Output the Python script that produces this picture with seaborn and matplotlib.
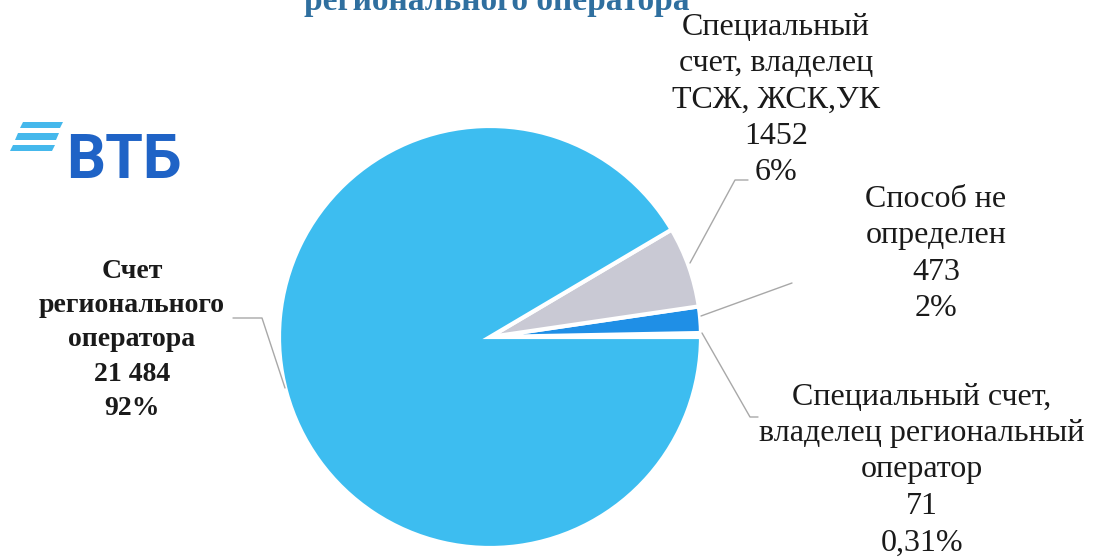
"""
Pie chart: accounts by way of forming capital repair fund
"""
import matplotlib
matplotlib.use("Agg")
import matplotlib.pyplot as plt
from matplotlib.patches import Polygon
import seaborn as sns

W, H = 1099, 558

# Data (counter-clockwise from 3 o'clock)
labels = [
    "Специальный счет,\nвладелец региональный\nоператор\n71\n0,31%",
    "Способ не\nопределен\n473\n2%",
    "Специальный\nсчет, владелец\nТСЖ, ЖСК,УК\n1452\n6%",
    "Счет\nрегионального\nоператора\n21 484\n92%",
]
values = [71, 473, 1452, 21484]
colors = ["#2a9be8", "#1f8fe6", "#c9c9d4", "#3dbdf0"]

# label centres and leader lines (image pixel coords, y from top)
label_pos = [(922, 470), (936, 254), (776, 100), (132, 340)]
leaders = [
    [(702, 333), (750, 417), (758, 417)],
    [(701, 316), (792, 283)],
    [(690, 263), (735, 180), (748, 180)],
    [(285, 388), (262, 318), (233, 318)],
]
bold = [False, False, False, True]


def fy(y):
    return H - y


def main():
    sns.set_theme(style="white")
    plt.rcParams["font.family"] = ["Liberation Serif", "DejaVu Serif"]

    fig = plt.figure(figsize=(W / 100, H / 100), dpi=100)
    ax = fig.add_axes([0, 0, 1, 1])

    ax.pie(values, colors=colors, startangle=0, counterclock=True,
           center=(490, fy(337)), radius=211,
           wedgeprops=dict(edgecolor="white", linewidth=3))
    ax.set_xlim(0, W)
    ax.set_ylim(0, H)
    ax.set_aspect("equal")
    ax.axis("off")

    for lab, (x, y), line, b in zip(labels, label_pos, leaders, bold):
        ax.text(x, fy(y), lab, ha="center", va="center", multialignment="center",
                fontsize=20 if b else 23, linespacing=1.48 if b else 1.34,
                color="#1a1a1a", fontweight="bold" if b else "normal")
        xs = [p[0] for p in line]
        ys = [fy(p[1]) for p in line]
        ax.plot(xs, ys, color="#a8a8a8", lw=1)

    # cropped title
    ax.text(497, fy(10), "регионального оператора", ha="center", va="baseline",
            fontsize=24, fontweight="bold", color="#2f6f9f")

    # VTB logo
    stripes = [(122, 128, 20, 60), (133, 140, 15, 56), (145, 151, 10, 52)]
    for y0, y1, x0, x1 in stripes:
        pts = [(x0 + 3, fy(y0)), (x1 + 3, fy(y0)), (x1, fy(y1)), (x0, fy(y1))]
        ax.add_patch(Polygon(pts, closed=True, color="#45b8ec", lw=0))
    ax.text(66, fy(178), "ВТБ", ha="left", va="baseline", fontsize=44,
            fontweight="bold", color="#1f63c6", family=["Roboto", "DejaVu Sans"])

    fig.savefig("out.png", dpi=100)


if __name__ == "__main__":
    main()
